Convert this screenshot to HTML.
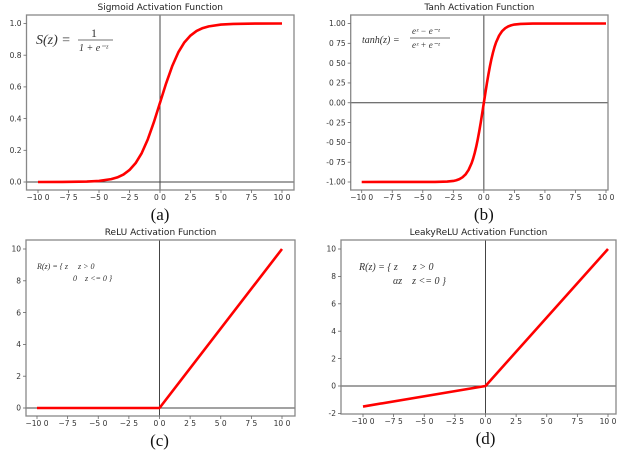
<!DOCTYPE html>
<html><head><meta charset="utf-8">
<style>
html,body{margin:0;padding:0;background:#fff;width:625px;height:452px;overflow:hidden}
svg{display:block}
.t{font-family:"DejaVu Sans","Liberation Sans",sans-serif;font-size:7.5px;fill:#333}
.ti{font-family:"DejaVu Sans","Liberation Sans",sans-serif;font-size:9px;fill:#222}
.f{font-family:"Liberation Serif",serif;font-style:italic;fill:#333}
.cap{font-family:"Liberation Serif",serif;font-size:17px;fill:#111}
</style></head><body>
<svg id="s" width="625" height="452">
<text class="f" x="36" y="44" font-size="14">S(z) =</text>
<text class="f" x="91" y="37" font-size="12" style="font-style:normal">1</text>
<line x1="78" y1="40" x2="113" y2="40" stroke="#444" stroke-width="0.7"/>
<text class="f" x="79" y="51" font-size="10">1 + e⁻ᶻ</text>
<text class="f" x="362" y="43" font-size="10">tanh(z) =</text>
<text class="f" x="412" y="34" font-size="9">eᶻ − e⁻ᶻ</text>
<line x1="410" y1="38" x2="450" y2="38" stroke="#444" stroke-width="0.7"/>
<text class="f" x="412" y="48" font-size="9">eᶻ + e⁻ᶻ</text>
<text class="f" x="37" y="269" font-size="8">R(z) = { z &#160;&#160;&#160; z &gt; 0</text>
<text class="f" x="73" y="281" font-size="8">0 &#160;&#160; z &lt;= 0 }</text>
<text class="f" x="359" y="270" font-size="10">R(z) = { z &#160;&#160;&#160;&#160; z &gt; 0</text>
<text class="f" x="393" y="284" font-size="10">αz &#160;&#160; z &lt;= 0 }</text>
</svg>
<script>
const sigX=[-10,-8,-6,-5,-4,-3.5,-3,-2.5,-2,-1.5,-1,-0.5,0,0.5,1,1.5,2,2.5,3,3.5,4,5,6,8,10];
const sigY=[0.00005,0.0003,0.0025,0.0067,0.018,0.029,0.047,0.076,0.119,0.182,0.269,0.378,0.5,0.622,0.731,0.818,0.881,0.924,0.953,0.971,0.982,0.9933,0.9975,0.9997,0.99995];
const tanhX=[-10,-4,-3,-2.5,-2.25,-2,-1.75,-1.5,-1.25,-1,-0.875,-0.75,-0.625,-0.5,-0.375,-0.25,-0.125,0,0.125,0.25,0.375,0.5,0.625,0.75,0.875,1,1.25,1.5,1.75,2,2.25,2.5,3,4,10];
const tanhY=[-1,-0.9993,-0.995,-0.987,-0.978,-0.964,-0.941,-0.905,-0.848,-0.762,-0.704,-0.635,-0.555,-0.462,-0.358,-0.245,-0.124,0,0.124,0.245,0.358,0.462,0.555,0.635,0.704,0.762,0.848,0.905,0.941,0.964,0.978,0.987,0.995,0.9993,1];
const reluX=[-10,0,10];
const reluY=[0,0,10];
const leakyX=[-10,0,10];
const leakyY=[-1.5,0,10];
const xTicks=[-10,-7.5,-5,-2.5,0,2.5,5,7.5,10];
const xTickLabels=["−10 0","−7 5","−5 0","−2 5","0 0","2 5","5 0","7 5","10 0"];
const sigTicks=[0,0.2,0.4,0.6,0.8,1.0];
const sigTickLabels=["0.0","0.2","0.4","0.6","0.8","1.0"];
const tanhTicks=[-1,-0.75,-0.5,-0.25,0,0.25,0.5,0.75,1];
const tanhTickLabels=["-1.00","-0 75","-0 50","-0 25","0.00","0 25","0 50","0 75","1.00"];
const reluTicks=[0,2,4,6,8,10];
const reluTickLabels=["0","2","4","6","8","10"];
const leakyTicks=[-2,0,2,4,6,8,10];
const leakyTickLabels=["-2","0","2","4","6","8","10"];

const svg=document.getElementById('s');
const NS='http://www.w3.org/2000/svg';
function mk(tag,attrs,parent){const e=document.createElementNS(NS,tag);for(const k in attrs)e.setAttribute(k,attrs[k]);(parent||svg).appendChild(e);return e;}

function panel(p){
  const g=mk('g',{});
  
  
  const sx=v=>p.x0+(v+10)/20*(p.x1-p.x0);
  const sy=v=>p.yA+(v-p.vA)/(p.vB-p.vA)*(p.yB-p.yA);
  const hl=mk('line',{x1:p.L,x2:p.R,y1:sy(0),y2:sy(0),stroke:'#444','stroke-width':1},g);
  
  
  const vl=mk('line',{x1:sx(0),x2:sx(0),y1:p.T,y2:p.B,stroke:'#444','stroke-width':1},g);
  
  
  let d='';
  p.xs.forEach((x,i)=>{d+=(i?'L':'M')+sx(x).toFixed(2)+' '+sy(p.ys[i]).toFixed(2);});
  const c=mk('path',{d:d,fill:'none',stroke:'#f00','stroke-width':2.6,'stroke-linejoin':'round'},g);
  
  
  const fr=mk('rect',{x:p.L,y:p.T,width:p.R-p.L,height:p.B-p.T,fill:'none',stroke:'#888','stroke-width':1.3},g);
  
  
  xTicks.forEach((v,i)=>{
    mk('line',{x1:sx(v),x2:sx(v),y1:p.B,y2:p.B+3,stroke:'#666','stroke-width':0.8},g);
    const t=mk('text',{x:sx(v),y:p.B+10,'text-anchor':'middle',class:'t'},g);
    t.textContent=xTickLabels[i];
    
    
  });
  p.yt.forEach((v,i)=>{
    mk('line',{x1:p.L-3,x2:p.L,y1:sy(v),y2:sy(v),stroke:'#666','stroke-width':0.8},g);
    const t=mk('text',{x:p.L-5,y:sy(v)+2.7,'text-anchor':'end',class:'t'},g);
    t.textContent=p.ytl[i];
    
    
  });
  const ti=mk('text',{x:(p.L+p.R)/2,y:p.T-5,'text-anchor':'middle',class:'ti'},g);
  ti.textContent=p.title;
  
  
  const cp=mk('text',{x:sx(0),y:p.B+30,'text-anchor':'middle',class:'cap'},g);
  cp.textContent=p.cap;
  
  
  svg.insertBefore(g,svg.firstChild);
}
panel({name:'sigmoid',L:26.5,R:294,T:15,B:190,x0:38,x1:282,yA:182,vA:0,yB:23.5,vB:1,xs:sigX,ys:sigY,yt:sigTicks,ytl:sigTickLabels,title:'Sigmoid Activation Function',cap:'(a)'});
panel({name:'tanh',L:350.7,R:608,T:15,B:190,x0:361.7,x1:606,yA:182,vA:-1,yB:23.5,vB:1,xs:tanhX,ys:tanhY,yt:tanhTicks,ytl:tanhTickLabels,title:'Tanh Activation Function',cap:'(b)'});
panel({name:'relu',L:26,R:295,T:240,B:416,x0:37,x1:282,yA:408,vA:0,yB:249,vB:10,xs:reluX,ys:reluY,yt:reluTicks,ytl:reluTickLabels,title:'ReLU Activation Function',cap:'(c)'});
panel({name:'leaky-relu',L:341,R:616,T:240,B:414,x0:363,x1:608,yA:386,vA:0,yB:249,vB:10,xs:leakyX,ys:leakyY,yt:leakyTicks,ytl:leakyTickLabels,title:'LeakyReLU Activation Function',cap:'(d)'});
</script>
</body></html>
